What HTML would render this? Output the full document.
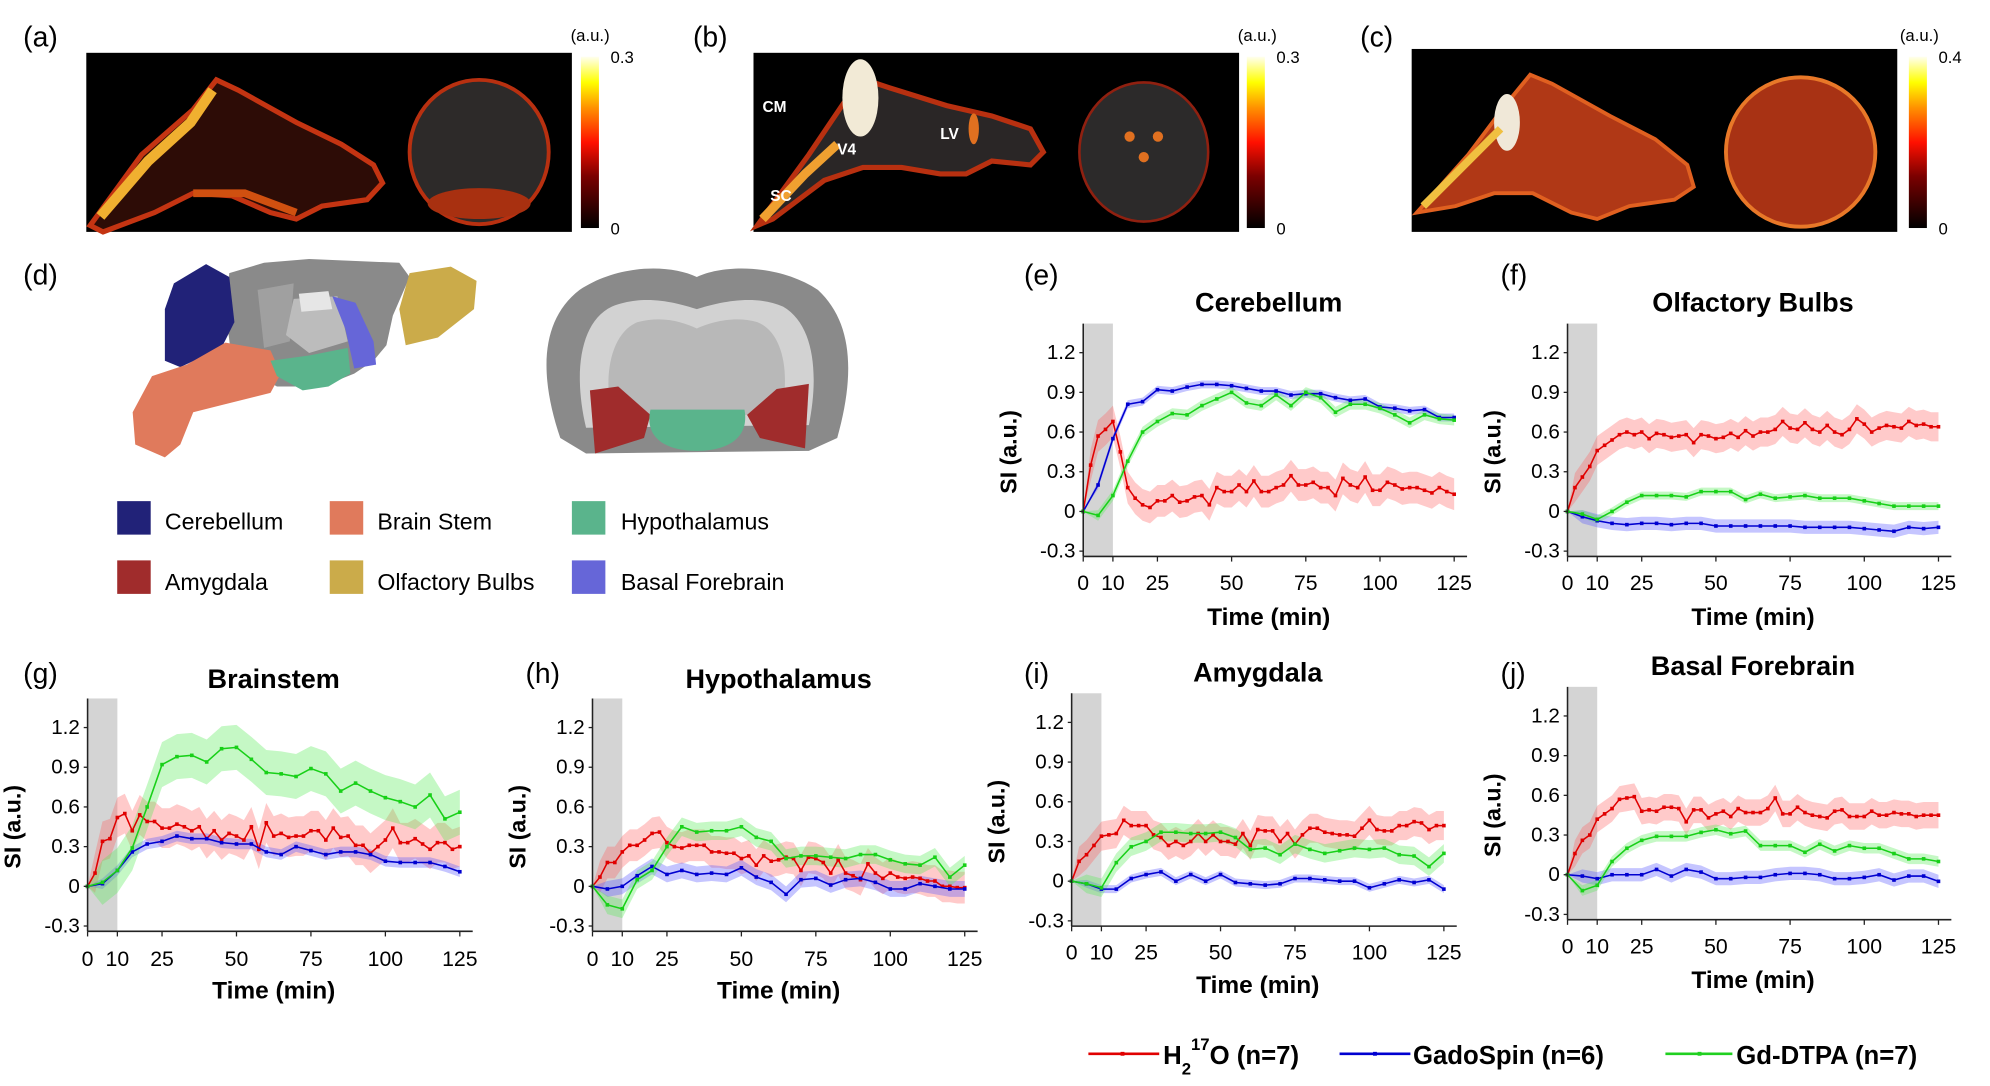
<!DOCTYPE html>
<html><head><meta charset="utf-8">
<style>
html,body{margin:0;padding:0;background:#fff;}
svg{display:block;}
text{font-family:"Liberation Sans",sans-serif;}
.nar{font-family:"Liberation Sans Narrow","Liberation Sans",sans-serif;}
</style></head>
<body>
<svg id="fig" width="1990" height="1086" viewBox="0 0 1545 843" preserveAspectRatio="none" xmlns="http://www.w3.org/2000/svg">
<defs>
<linearGradient id="cb" x1="0" y1="1" x2="0" y2="0">
<stop offset="0" stop-color="#000"/><stop offset="0.3" stop-color="#7a0000"/><stop offset="0.5" stop-color="#ff1000"/><stop offset="0.7" stop-color="#ff9000"/><stop offset="0.85" stop-color="#ffff00"/><stop offset="1" stop-color="#fffff0"/>
</linearGradient>
</defs>

<!-- panel a -->
<g>
<text x="18" y="36" font-size="22">(a)</text>
<rect x="67" y="41" width="377" height="139" fill="#000"/>
<polygon points="70,175 110,120 150,85 168,62 185,70 230,95 265,112 290,128 297,142 285,155 250,160 230,170 210,165 180,152 150,150 120,165 80,180" fill="#2d0c06" stroke="#c43412" stroke-width="4"/>
<polyline points="78,168 115,125 148,95 165,70" fill="none" stroke="#f0b030" stroke-width="8"/>
<polyline points="150,150 190,150 230,165" fill="none" stroke="#d05010" stroke-width="6"/>
<ellipse cx="372" cy="118" rx="54" ry="56" fill="#2d2a29" stroke="#b83010" stroke-width="3"/>
<ellipse cx="372" cy="158" rx="40" ry="12" fill="#a83010"/>
<rect x="451" y="44" width="14" height="133" fill="url(#cb)"/>
<text x="443" y="32" font-size="13" class="nar">(a.u.)</text>
<text x="474" y="49" font-size="13" class="nar">0.3</text>
<text x="474" y="182" font-size="13" class="nar">0</text>
</g>

<!-- panel b -->
<g>
<text x="538" y="36" font-size="22">(b)</text>
<rect x="585" y="41" width="377" height="139" fill="#000"/>
<polygon points="588,175 628,120 655,80 672,62 690,68 735,82 770,90 800,100 810,118 800,128 770,125 750,135 730,135 700,130 670,130 640,140 600,170" fill="#2a2626" stroke="#b83010" stroke-width="4"/>
<ellipse cx="668" cy="76" rx="14" ry="30" fill="#f2ead6"/>
<polyline points="592,170 625,135 650,112" fill="none" stroke="#f0a030" stroke-width="7"/>
<ellipse cx="756" cy="100" rx="4" ry="12" fill="#e07020"/>
<ellipse cx="888" cy="118" rx="50" ry="54" fill="#2c2a2a" stroke="#902010" stroke-width="2"/>
<circle cx="877" cy="106" r="4" fill="#e07020"/><circle cx="899" cy="106" r="4" fill="#e07020"/><circle cx="888" cy="122" r="4" fill="#e07020"/>
<text x="592" y="87" font-size="12" font-weight="bold" fill="#fff">CM</text>
<text x="650" y="120" font-size="12" font-weight="bold" fill="#fff">V4</text>
<text x="730" y="108" font-size="12" font-weight="bold" fill="#fff">LV</text>
<text x="598" y="156" font-size="12" font-weight="bold" fill="#fff">SC</text>
<rect x="968" y="44" width="14" height="133" fill="url(#cb)"/>
<text x="961" y="32" font-size="13" class="nar">(a.u.)</text>
<text x="991" y="49" font-size="13" class="nar">0.3</text>
<text x="991" y="182" font-size="13" class="nar">0</text>
</g>

<!-- panel c -->
<g>
<text x="1056" y="36" font-size="22">(c)</text>
<rect x="1096" y="38" width="377" height="142" fill="#000"/>
<polygon points="1100,165 1140,120 1170,80 1188,58 1205,65 1250,90 1285,108 1310,128 1315,145 1300,155 1265,160 1240,170 1220,165 1190,150 1160,150 1130,160" fill="#b03816" stroke="#e06020" stroke-width="3"/>
<ellipse cx="1170" cy="95" rx="10" ry="22" fill="#f0e8d8"/>
<polyline points="1105,160 1140,125 1165,100" fill="none" stroke="#f0c040" stroke-width="6"/>
<ellipse cx="1398" cy="118" rx="58" ry="58" fill="#a83214" stroke="#e87828" stroke-width="3"/>
<rect x="1482" y="44" width="14" height="133" fill="url(#cb)"/>
<text x="1475" y="32" font-size="13" class="nar">(a.u.)</text>
<text x="1505" y="49" font-size="13" class="nar">0.4</text>
<text x="1505" y="182" font-size="13" class="nar">0</text>
</g>

<!-- panel d -->
<g>
<text x="18" y="221" font-size="22">(d)</text>
<polygon points="178,212 205,204 240,201 310,204 318,215 305,245 300,268 290,280 275,290 250,300 215,300 180,280 175,240" fill="#8a8a8a"/>
<polygon points="200,225 228,220 225,265 205,270" fill="#a0a0a0"/>
<polygon points="228,232 262,230 270,265 240,274 222,260" fill="#bcbcbc"/>
<polygon points="232,228 255,226 258,240 234,242" fill="#e6e6e6"/>
<polygon points="135,220 160,205 178,215 182,250 172,270 140,285 128,280 128,240" fill="#212278"/>
<polygon points="145,283 175,266 210,272 218,290 210,305 170,315 150,320 140,345 128,355 105,345 103,320 118,292" fill="#e07a5c"/>
<polygon points="210,280 240,276 270,270 272,290 255,300 235,303 215,292" fill="#5ab48c"/>
<polygon points="258,230 276,235 290,265 292,283 275,286 268,255" fill="#6666d8"/>
<polygon points="318,212 350,207 370,218 368,240 340,262 315,268 310,240" fill="#cbab4a"/>
<path d="M435,340 C418,290 420,248 450,225 C480,205 520,205 541,215 C562,205 605,205 635,225 C662,250 664,290 650,340 L628,350 L455,352 Z" fill="#8a8a8a"/>
<path d="M455,332 C445,290 450,250 475,238 C500,228 525,235 541,240 C557,235 585,228 608,238 C632,252 636,290 628,330 Z" fill="#d2d2d2"/>
<path d="M475,322 C468,290 475,258 495,250 C515,245 530,250 541,255 C552,250 570,245 588,250 C608,258 614,290 606,322 Z" fill="#b8b8b8"/>
<polygon points="458,303 480,300 505,322 500,340 462,352" fill="#a02c2c"/>
<polygon points="580,322 603,302 628,298 625,348 590,340" fill="#a02c2c"/>
<path d="M505,318 L578,318 C582,340 565,350 541,350 C517,350 500,340 505,318 Z" fill="#5ab48c"/>
</g>

<!-- atlas legend -->
<g>
<g><rect x="91" y="389" width="26" height="26" fill="#212278"/><text x="128" y="411" font-size="18">Cerebellum</text></g>
<g><rect x="256" y="389" width="26" height="26" fill="#e07a5c"/><text x="293" y="411" font-size="18">Brain Stem</text></g>
<g><rect x="444" y="389" width="26" height="26" fill="#5ab48c"/><text x="482" y="411" font-size="18">Hypothalamus</text></g>
<g><rect x="91" y="435" width="26" height="26" fill="#a02c2c"/><text x="128" y="458" font-size="18">Amygdala</text></g>
<g><rect x="256" y="435" width="26" height="26" fill="#cbab4a"/><text x="293" y="458" font-size="18">Olfactory Bulbs</text></g>
<g><rect x="444" y="435" width="26" height="26" fill="#6666d8"/><text x="482" y="458" font-size="18">Basal Forebrain</text></g>
</g>

<!-- bottom legend -->
<g>
<g>
<line x1="845" y1="818" x2="900" y2="818" stroke="#e00000" stroke-width="2"/><rect x="870" y="816.5" width="3" height="3" fill="#e00000"/>
<text x="903" y="826" font-size="20" font-weight="bold">H<tspan font-size="13" dy="8">2</tspan><tspan font-size="13" dy="-19">17</tspan><tspan dy="11">O (n=7)</tspan></text>
</g>
<g>
<line x1="1040" y1="818" x2="1095" y2="818" stroke="#0000d0" stroke-width="2"/><rect x="1066" y="816.5" width="3" height="3" fill="#0000d0"/>
<text x="1097" y="826" font-size="20" font-weight="bold">GadoSpin (n=6)</text>
</g>
<g>
<line x1="1293" y1="818" x2="1345" y2="818" stroke="#20d020" stroke-width="2"/><rect x="1318" y="816.5" width="3" height="3" fill="#20d020"/>
<text x="1348" y="826" font-size="20" font-weight="bold">Gd-DTPA (n=7)</text>
</g>
</g>

<g id="charts"></g>
</svg>

<script>
// ---- data (SI, a.u.) ; red sampled every 2.5 min, blue/green every 5 min, 0..125 ----
const xTicks = [0, 10, 25, 50, 75, 100, 125];
const yTicks = [-0.3, 0, 0.3, 0.6, 0.9, 1.2];
const yTickLabels = ["-0.3", "0", "0.3", "0.6", "0.9", "1.2"];
const titles = ["Cerebellum", "Olfactory Bulbs", "Brainstem", "Hypothalamus", "Amygdala", "Basal Forebrain"];

const cerebRed = [0,0.35,0.57,0.62,0.68,0.45,0.18,0.1,0.05,0.03,0.08,0.08,0.12,0.07,0.08,0.11,0.12,0.05,0.18,0.15,0.15,0.2,0.15,0.23,0.15,0.15,0.18,0.2,0.27,0.2,0.2,0.22,0.18,0.18,0.12,0.25,0.2,0.18,0.26,0.16,0.16,0.22,0.2,0.17,0.18,0.18,0.16,0.14,0.18,0.15,0.13];
const cerebBlue = [0,0.2,0.55,0.81,0.83,0.92,0.91,0.94,0.96,0.96,0.95,0.93,0.91,0.91,0.88,0.89,0.89,0.86,0.84,0.85,0.79,0.78,0.76,0.77,0.71,0.71];
const cerebGreen = [0,-0.03,0.12,0.38,0.6,0.68,0.74,0.73,0.8,0.85,0.9,0.82,0.8,0.88,0.8,0.9,0.86,0.75,0.81,0.81,0.78,0.73,0.67,0.73,0.7,0.69];

const olfRed = [0,0.18,0.26,0.34,0.46,0.5,0.54,0.58,0.6,0.58,0.6,0.55,0.59,0.58,0.56,0.57,0.58,0.52,0.58,0.57,0.55,0.56,0.59,0.56,0.61,0.57,0.6,0.6,0.62,0.68,0.63,0.62,0.67,0.62,0.6,0.65,0.6,0.58,0.62,0.7,0.66,0.6,0.63,0.65,0.64,0.63,0.68,0.65,0.66,0.64,0.64];
const olfBlue = [0,-0.04,-0.07,-0.09,-0.1,-0.09,-0.09,-0.1,-0.09,-0.09,-0.11,-0.11,-0.11,-0.11,-0.11,-0.11,-0.12,-0.12,-0.12,-0.12,-0.13,-0.14,-0.15,-0.12,-0.13,-0.12];
const olfGreen = [0,-0.02,-0.06,0.0,0.07,0.12,0.12,0.12,0.11,0.15,0.15,0.15,0.09,0.13,0.1,0.11,0.12,0.1,0.1,0.1,0.08,0.06,0.04,0.04,0.04,0.04];

const bsRed = [0,0.1,0.34,0.36,0.52,0.55,0.42,0.54,0.49,0.49,0.44,0.44,0.47,0.45,0.42,0.45,0.36,0.42,0.35,0.4,0.38,0.35,0.45,0.28,0.48,0.38,0.4,0.37,0.38,0.38,0.42,0.42,0.35,0.44,0.37,0.38,0.31,0.31,0.25,0.3,0.35,0.44,0.33,0.33,0.36,0.32,0.28,0.33,0.33,0.28,0.3];
const bsBlue = [0,0.02,0.12,0.26,0.32,0.34,0.38,0.36,0.36,0.33,0.32,0.32,0.26,0.24,0.3,0.27,0.24,0.26,0.26,0.24,0.19,0.18,0.18,0.18,0.15,0.11];
const bsGreen = [0,0.03,0.12,0.29,0.6,0.92,0.98,0.99,0.94,1.04,1.05,0.96,0.86,0.85,0.83,0.89,0.85,0.72,0.78,0.72,0.67,0.64,0.6,0.69,0.51,0.56];

const hypRed = [0,0.07,0.18,0.18,0.26,0.31,0.31,0.35,0.4,0.41,0.33,0.3,0.29,0.31,0.31,0.31,0.26,0.26,0.25,0.25,0.21,0.23,0.16,0.23,0.19,0.2,0.22,0.21,0.12,0.22,0.21,0.18,0.1,0.2,0.1,0.08,0.05,0.17,0.1,0.06,0.1,0.07,0.06,0.07,0.06,0.04,0.04,0.0,0.0,-0.01,-0.01];
const hypBlue = [0,-0.02,0.0,0.08,0.15,0.09,0.12,0.09,0.1,0.09,0.14,0.07,0.03,-0.06,0.05,0.06,0.01,0.05,0.06,0.03,-0.02,-0.02,0.02,0.0,-0.02,-0.02];
const hypGreen = [0,-0.14,-0.17,0.05,0.12,0.3,0.45,0.41,0.42,0.42,0.45,0.37,0.34,0.21,0.23,0.23,0.22,0.21,0.24,0.24,0.2,0.17,0.16,0.22,0.07,0.16];

const amyRed = [0,0.15,0.2,0.27,0.34,0.35,0.36,0.46,0.42,0.42,0.42,0.35,0.33,0.27,0.3,0.27,0.3,0.36,0.3,0.35,0.3,0.3,0.28,0.36,0.27,0.39,0.38,0.38,0.3,0.36,0.28,0.35,0.4,0.4,0.37,0.36,0.35,0.35,0.34,0.4,0.46,0.39,0.38,0.38,0.42,0.42,0.45,0.44,0.39,0.42,0.42];
const amyBlue = [0,-0.02,-0.06,-0.06,0.02,0.05,0.07,0.0,0.05,0.0,0.05,-0.01,-0.02,-0.03,-0.02,0.02,0.02,0.01,0.0,0.0,-0.05,-0.02,0.01,-0.01,0.01,-0.06];
const amyGreen = [0,-0.02,-0.05,0.14,0.26,0.3,0.37,0.37,0.36,0.36,0.37,0.33,0.24,0.25,0.2,0.28,0.24,0.21,0.23,0.25,0.24,0.25,0.2,0.19,0.11,0.21];

const bfRed = [0,0.16,0.26,0.3,0.42,0.46,0.5,0.57,0.58,0.59,0.48,0.49,0.48,0.51,0.51,0.5,0.4,0.49,0.49,0.43,0.46,0.48,0.44,0.5,0.47,0.47,0.47,0.5,0.58,0.46,0.46,0.51,0.47,0.45,0.44,0.43,0.48,0.49,0.44,0.44,0.44,0.48,0.45,0.45,0.47,0.46,0.46,0.44,0.45,0.45,0.45];
const bfBlue = [0,-0.01,-0.03,0.0,0.0,0.0,0.04,-0.01,0.04,0.02,-0.03,-0.03,-0.02,-0.02,0.0,0.01,0.01,0.0,-0.03,-0.03,-0.02,0.0,-0.04,-0.01,-0.01,-0.05];
const bfGreen = [0,-0.12,-0.08,0.1,0.2,0.26,0.29,0.29,0.29,0.32,0.34,0.31,0.33,0.22,0.22,0.22,0.17,0.23,0.18,0.22,0.2,0.2,0.16,0.12,0.12,0.1];

// SEM half-widths per series [red, blue, green] per panel
const semCereb = [0.12, 0.03, 0.04];
const semOlf = [0.11, 0.05, 0.03];
const semBs = [0.15, 0.04, 0.17];
const semHyp = [0.12, 0.06, 0.07];
const semAmy = [0.11, 0.03, 0.07];
const semBf = [0.1, 0.05, 0.04];

const panelSeries = [
  [cerebRed, cerebBlue, cerebGreen], [olfRed, olfBlue, olfGreen], [bsRed, bsBlue, bsGreen],
  [hypRed, hypBlue, hypGreen], [amyRed, amyBlue, amyGreen], [bfRed, bfBlue, bfGreen]];
const panelSem = [semCereb, semOlf, semBs, semHyp, semAmy, semBf];

// ---- layout ----
const layout = [
  {key:"e", x0:841, x1:1129, y0:397, titleY:242, tickY:458, xlabY:485, labX:795, labY:221},
  {key:"f", x0:1217, x1:1505, y0:397, titleY:242, tickY:458, xlabY:485, labX:1165, labY:221},
  {key:"g", x0:68, x1:357, y0:688, titleY:534, tickY:750, xlabY:775, labX:18, labY:530},
  {key:"h", x0:460, x1:749, y0:688, titleY:534, tickY:750, xlabY:775, labX:408, labY:530},
  {key:"i", x0:832, x1:1121, y0:684, titleY:529, tickY:745, xlabY:771, labX:795, labY:530},
  {key:"j", x0:1217, x1:1505, y0:679, titleY:524, tickY:740, xlabY:767, labX:1165, labY:530}];
const pxPerUnit = 102.7;
const lineCols = ["#e00000", "#0000d0", "#18d018"];
const bandCols = ["rgba(255,90,90,0.32)", "rgba(90,90,255,0.35)", "rgba(90,235,90,0.35)"];
const seriesNames = ["h2o17", "gadospin", "gd-dtpa"];
const NS = "http://www.w3.org/2000/svg";
const root = document.getElementById("charts");

function mk(tag, attrs, parent) {
  const e = document.createElementNS(NS, tag);
  for (const k in attrs) e.setAttribute(k, attrs[k]);
  parent.appendChild(e);
  return e;
}

layout.forEach((L, p) => {
  const xs = v => L.x0 + (L.x1 - L.x0) * v / 125;
  const ys = v => L.y0 - v * pxPerUnit;
  const g = mk("g", {}, root);
  
  
  const top = ys(1.42), bot = ys(-0.34);
  const shade = mk("rect", {x: xs(0), y: top, width: xs(10) - xs(0), height: bot - top, fill: "#d4d4d4"}, g);
  
  

  const series = panelSeries[p], sem = panelSem[p];
  series.forEach((arr, s) => {
    const n = arr.length;
    const tx = i => xs(i * 125 / (n - 1));
    let up = [], dn = [];
    arr.forEach((v, i) => {
      const w = i === 0 ? 0 : sem[s];
      up.push(tx(i) + "," + ys(v + w));
      dn.unshift(tx(i) + "," + ys(v - w));
    });
    const band = mk("polygon", {points: up.concat(dn).join(" "), fill: bandCols[s]}, g);
    
    
  });
  series.forEach((arr, s) => {
    const n = arr.length;
    const tx = i => xs(i * 125 / (n - 1));
    const pts = arr.map((v, i) => tx(i) + "," + ys(v)).join(" ");
    const ln = mk("polyline", {points: pts, fill: "none", stroke: lineCols[s], "stroke-width": 1.2}, g);
    
    
    arr.forEach((v, i) => {
      const m = mk("rect", {x: tx(i) - 1.4, y: ys(v) - 1.4, width: 2.8, height: 2.8, fill: lineCols[s]}, g);
      
      
    });
  });
  const ya = mk("line", {x1: xs(0), y1: top, x2: xs(0), y2: bot, stroke: "#222", "stroke-width": 1.2}, g);
  
  
  const xa = mk("line", {x1: xs(0), y1: bot, x2: xs(125) + 10, y2: bot, stroke: "#222", "stroke-width": 1.2}, g);
  
  
  xTicks.forEach(t => {
    mk("line", {x1: xs(t), y1: bot, x2: xs(t), y2: bot + 4, stroke: "#222"}, g);
    const tl = mk("text", {x: xs(t), y: L.tickY, "font-size": 16.5, "text-anchor": "middle", class: "nar"}, g);
    tl.textContent = String(t);
    
    
  });
  yTicks.forEach((t, k) => {
    mk("line", {x1: xs(0) - 3, y1: ys(t), x2: xs(0), y2: ys(t), stroke: "#222"}, g);
    const tl = mk("text", {x: xs(0) - 6, y: ys(t) + 5, "font-size": 16, "text-anchor": "end", class: "nar"}, g);
    tl.textContent = yTickLabels[k];
    
    
  });
  const xl = mk("text", {x: (xs(0) + xs(125)) / 2, y: L.xlabY, "font-size": 19, "font-weight": "bold", "text-anchor": "middle"}, g);
  xl.textContent = "Time (min)";
  
  
  const yc = ys(0.45), yx = xs(0) - 52;
  const yl = mk("text", {x: yx, y: yc, "font-size": 18, "font-weight": "bold", "text-anchor": "middle", transform: "rotate(-90 " + yx + " " + yc + ")"}, g);
  yl.textContent = "SI (a.u.)";
  
  
  const tt = mk("text", {x: (xs(0) + xs(125)) / 2, y: L.titleY, "font-size": 21, "font-weight": "bold", "text-anchor": "middle"}, g);
  tt.textContent = titles[p];
  
  
  const lb = mk("text", {x: L.labX, y: L.labY, "font-size": 22}, g);
  lb.textContent = "(" + L.key + ")";
  
  
});
</script>
</body></html>
